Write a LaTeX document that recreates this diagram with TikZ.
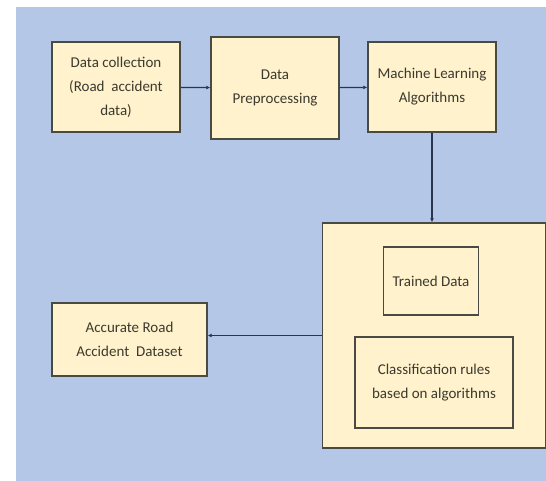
\documentclass[tikz,border=0pt]{standalone}
\usepackage{fontspec}
\setmainfont{Carlito}
\usepackage{tikz}
\usetikzlibrary{arrows.meta}

\definecolor{bgblue}{HTML}{B4C7E7}
\definecolor{boxfill}{HTML}{FFF2CC}
\definecolor{boxline}{HTML}{4A4A44}
\definecolor{textcol}{HTML}{3B3A2E}
\definecolor{arrowcol}{HTML}{2A3550}

\begin{document}
\begin{tikzpicture}[
  x=1pt, y=1pt,
  >={Latex[length=4pt,width=4pt]},
  every node/.style={font=\fontsize{15}{24}\selectfont, text=textcol},
  box/.style={
    draw=boxline, fill=boxfill, line width=1.4pt,
    align=center, inner sep=0pt
  },
  stage/.style={box, minimum width=128, minimum height=90},
  inner/.style={box, line width=1.2pt},
  flow/.style={->, line width=1.2pt, draw=arrowcol}
]

% --- Page and background ---
\useasboundingbox (0,0) rectangle (546,481);
\fill[bgblue] (16,0) rectangle (546,474);

% --- Top row: pipeline stages ---
\node[stage] (collect) at (116,394) {Data collection\\(Road~~accident\\data)};
\node[stage, minimum height=102] (prep) at (275,393) {Data\\Preprocessing};
\node[stage] (ml) at (432,394) {Machine Learning\\Algorithms};

% --- Model output block ---
\node[box, minimum width=223, minimum height=225] (model) at (434,145.5) {};
\node[inner, minimum width=95, minimum height=68] (trained) at (431,200) {Trained Data};
\node[inner, minimum width=158, minimum height=91] (rules) at (434,98.5) {Classification rules\\based on algorithms};

% --- Result ---
\node[box, minimum width=155, minimum height=73] (result) at (129.5,141.5) {Accurate Road\\Accident~~Dataset};

% --- Arrows ---
\draw[flow] (collect) -- (prep);
\draw[flow] (prep) -- (ml);
\draw[flow] (ml.south) -- (ml.south |- model.north);
\draw[flow] (model.west) -- (model.west -| result.east);

\end{tikzpicture}
\end{document}
